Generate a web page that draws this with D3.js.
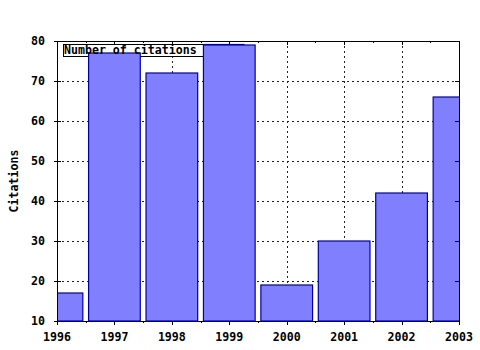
<!DOCTYPE html>
<html lang="en">
<head>
<meta charset="UTF-8">
<title>Citations</title>
<script src="https://cdn.jsdelivr.net/npm/d3@7"></script>
<style>
    body { margin: 0; background: #fff; }
    text { font: bold 11.6px "DejaVu Sans Mono", monospace; fill: #000; }
    .grid line { stroke: #222; stroke-dasharray: 2,3; stroke-width: 1; }
    .bar { fill: #8080ff; stroke: #0000a0; stroke-width: 1.2; }
</style>
</head>
<body>
<svg width="480" height="350"></svg>
<script>
    var years = [1996, 1997, 1998, 1999, 2000, 2001, 2002, 2003];
    var citations = [17, 77, 72, 79, 19, 30, 42, 66];
    var yTicks = [10, 20, 30, 40, 50, 60, 70, 80];
    var legendLabel = "Number of citations";
    var yLabel = "Citations";

    (function () {
        var left = 57, right = 459, pTop = 41, bottom = 321;
        var svg = d3.select("svg");

        var x = d3.scaleLinear().domain([1996, 2003]).range([left, right]);
        var y = d3.scaleLinear().domain([10, 80]).range([bottom, pTop]);
        var bw = (x(1997) - x(1996)) * 0.9;

        svg.append("clipPath").attr("id", "plot")
            .append("rect").attr("x", left).attr("y", pTop)
            .attr("width", right - left).attr("height", bottom - pTop);

        // grid
        var grid = svg.append("g").attr("class", "grid");
        grid.selectAll(".gy").data(yTicks.slice(1, -1)).enter().append("line")
            .attr("x1", left).attr("x2", right)
            .attr("y1", function (d) { return y(d) + 0.5; })
            .attr("y2", function (d) { return y(d) + 0.5; });
        grid.selectAll(".gx").data(years.slice(1, -1)).enter().append("line")
            .attr("y1", pTop).attr("y2", bottom)
            .attr("x1", function (d) { return Math.round(x(d)) + 0.5; })
            .attr("x2", function (d) { return Math.round(x(d)) + 0.5; });

        // key box + sample (bars get drawn over them)
        svg.append("rect").attr("x", 63.5).attr("y", 44.5).attr("width", 140).attr("height", 12)
            .attr("fill", "#fff").attr("stroke", "#000");
        svg.append("rect").attr("class", "bar")
            .attr("x", 204).attr("y", 44.5).attr("width", 40).attr("height", 12);

        // bars
        svg.append("g").attr("clip-path", "url(#plot)")
            .selectAll("rect").data(years).enter().append("rect")
            .attr("class", "bar")
            .attr("x", function (d) { return x(d) - bw / 2; })
            .attr("width", bw)
            .attr("y", function (d, i) { return y(citations[i]); })
            .attr("height", function (d, i) { return bottom - y(citations[i]); });

        // key text on top
        svg.append("text").attr("x", 64).attr("y", 54).text(legendLabel);

        // border
        svg.append("rect").attr("x", left + 0.5).attr("y", pTop + 0.5)
            .attr("width", right - left).attr("height", bottom - pTop)
            .attr("fill", "none").attr("stroke", "#000");

        // ticks
        var xMinor = d3.range(1996.5, 2003, 1);
        function ticksX(data, len) {
            var g = svg.append("g");
            g.selectAll(".b").data(data).enter().append("line")
                .attr("x1", function (d) { return Math.round(x(d)) + 0.5; })
                .attr("x2", function (d) { return Math.round(x(d)) + 0.5; })
                .attr("y1", bottom).attr("y2", bottom + len).attr("stroke", "#000");
            g.selectAll(".t").data(data).enter().append("line")
                .attr("x1", function (d) { return Math.round(x(d)) + 0.5; })
                .attr("x2", function (d) { return Math.round(x(d)) + 0.5; })
                .attr("y1", pTop).attr("y2", pTop + len).attr("stroke", "#000");
        }
        ticksX(years, 4);
        ticksX(xMinor, 2);

        var yg = svg.append("g");
        yg.selectAll(".l").data(yTicks).enter().append("line")
            .attr("x1", left - 3).attr("x2", left + 4)
            .attr("y1", function (d) { return y(d) + 0.5; })
            .attr("y2", function (d) { return y(d) + 0.5; })
            .attr("stroke", "#000");
        yg.selectAll(".r").data(yTicks).enter().append("line")
            .attr("x1", right - 4).attr("x2", right)
            .attr("y1", function (d) { return y(d) + 0.5; })
            .attr("y2", function (d) { return y(d) + 0.5; })
            .attr("stroke", "#000");

        // labels
        svg.append("g").selectAll("text").data(years).enter().append("text")
            .attr("x", function (d) { return x(d); })
            .attr("y", 341)
            .attr("text-anchor", "middle")
            .text(function (d) { return d; });

        svg.append("g").selectAll("text").data(yTicks).enter().append("text")
            .attr("x", 45)
            .attr("y", function (d) { return y(d) + 4; })
            .attr("text-anchor", "end")
            .text(function (d) { return d; });

        svg.append("text")
            .attr("transform", "translate(18," + ((pTop + bottom) / 2) + ") rotate(-90)")
            .attr("text-anchor", "middle")
            .text(yLabel);
    })();
</script>
</body>
</html>
